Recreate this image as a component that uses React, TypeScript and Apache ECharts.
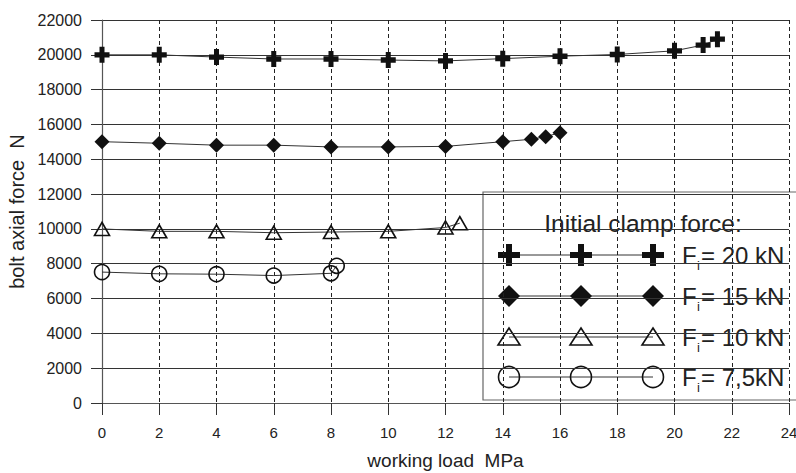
import React, { useEffect, useRef } from "react";
import * as echarts from "echarts";

const x20 = [0, 2, 4, 6, 8, 10, 12, 14, 16, 18, 20, 21, 21.5];
const y20 = [20000, 20000, 19870, 19760, 19760, 19700, 19650, 19780, 19920, 20020, 20230, 20560, 20900];
const x15 = [0, 2, 4, 6, 8, 10, 12, 14, 15, 15.5, 16];
const y15 = [15010, 14920, 14810, 14810, 14710, 14710, 14740, 15010, 15150, 15300, 15530];
const x10 = [0, 2, 4, 6, 8, 10, 12, 12.5];
const y10 = [10000, 9860, 9860, 9780, 9820, 9860, 10080, 10330];
const x75 = [0, 2, 4, 6, 8, 8.2];
const y75 = [7520, 7420, 7400, 7320, 7450, 7880];

const legendTitle = "Initial clamp force:";
const legendLabels = ["= 20 kN", "= 15 kN", "= 10 kN", "= 7,5kN"];
const seriesNames = ["Fi = 20 kN", "Fi = 15 kN", "Fi = 10 kN", "Fi = 7,5kN"];

const FONT = "'Liberation Sans', Arial, sans-serif";
const PLUS = "path://M5,0H10V5H15V10H10V15H5V10H0V5H5Z";

function zip(xs: number[], ys: number[]) {
  return xs.map((x, i) => [x, ys[i]]);
}

function legendMarker(kind: number, cx: number, cy: number): any {
  const black = "#111";
  if (kind === 0) {
    return {
      type: "group",
      children: [
        { type: "rect", shape: { x: cx - 11, y: cy - 3, width: 22, height: 6 }, style: { fill: black } },
        { type: "rect", shape: { x: cx - 3, y: cy - 11, width: 6, height: 22 }, style: { fill: black } },
      ],
    };
  }
  if (kind === 1) {
    return {
      type: "polygon",
      shape: { points: [[cx, cy - 11], [cx + 11, cy], [cx, cy + 11], [cx - 11, cy]] },
      style: { fill: black },
    };
  }
  if (kind === 2) {
    return {
      type: "polygon",
      shape: { points: [[cx, cy - 9], [cx + 11, cy + 8], [cx - 11, cy + 8]] },
      style: { fill: "none", stroke: black, lineWidth: 1.6 },
    };
  }
  return {
    type: "circle",
    shape: { cx, cy, r: 10.5 },
    style: { fill: "none", stroke: black, lineWidth: 1.6 },
  };
}

export default function App() {
  const ref = useRef<HTMLDivElement>(null);
  useEffect(() => {
    if (!ref.current) return;
    const chart = echarts.init(ref.current, null, { renderer: "svg" });
    const rowsY = [255, 296, 337, 377];
    const legendChildren: any[] = [
      {
        type: "rect",
        shape: { x: 483, y: 192, width: 320, height: 208 },
        style: { fill: "none", stroke: "#666", lineWidth: 1.2 },
      },
      {
        type: "text",
        style: {
          text: legendTitle,
          x: 643,
          y: 223,
          align: "center",
          verticalAlign: "middle",
          font: `24.5px ${FONT}`,
          fill: "#222",
        },
      },
    ];
    rowsY.forEach((yy, k) => {
      legendChildren.push({
        type: "line",
        shape: { x1: 509, y1: yy, x2: 653, y2: yy },
        style: { stroke: "#333", lineWidth: 1 },
      });
      [509, 581, 653].forEach((cx) => legendChildren.push(legendMarker(k, cx, yy)));
      legendChildren.push({
        type: "text",
        style: {
          text: "F",
          x: 682,
          y: yy,
          verticalAlign: "middle",
          font: `24px ${FONT}`,
          fill: "#222",
        },
      });
      legendChildren.push({
        type: "text",
        style: {
          text: "i",
          x: 697,
          y: yy + 10,
          verticalAlign: "middle",
          font: `13px ${FONT}`,
          fill: "#222",
        },
      });
      legendChildren.push({
        type: "text",
        style: {
          text: legendLabels[k],
          x: 701,
          y: yy,
          verticalAlign: "middle",
          font: `24px ${FONT}`,
          fill: "#222",
        },
      });
    });

    const lineStyle = { color: "#333", width: 1 };
    chart.setOption({
      animation: false,
      backgroundColor: "#fff",
      textStyle: { fontFamily: FONT },
      grid: {
        left: 102,
        right: 7,
        top: 20,
        bottom: 70,
        containLabel: false,
        outerBoundsMode: "none",
      },
      xAxis: {
        type: "value",
        min: 0,
        max: 24,
        interval: 2,
        name: "working load  MPa",
        nameLocation: "middle",
        nameGap: 48,
        nameTextStyle: { fontSize: 19, color: "#222", fontFamily: FONT },
        axisLine: { show: true, lineStyle: { color: "#555", width: 1.2 } },
        axisTick: { show: true, length: 12, lineStyle: { color: "#333" } },
        axisLabel: { margin: 22, fontSize: 15, color: "#222", fontFamily: FONT },
        splitLine: { show: true, lineStyle: { color: "#222", type: [4, 3], width: 1 } },
      },
      yAxis: {
        type: "value",
        min: 0,
        max: 22000,
        interval: 2000,
        name: "bolt axial force  N",
        nameLocation: "middle",
        nameGap: 73,
        nameTextStyle: { fontSize: 20, color: "#222", fontFamily: FONT },
        axisLine: { show: true, lineStyle: { color: "#555", width: 1.2 } },
        axisTick: { show: true, length: 11, lineStyle: { color: "#333" } },
        axisLabel: {
          margin: 20,
          fontSize: 16,
          color: "#222",
          fontFamily: FONT,
          formatter: (v: number) => String(v),
        },
        splitLine: { show: true, lineStyle: { color: "#333", width: 1 } },
      },
      series: [
        {
          name: seriesNames[0],
          type: "line",
          data: zip(x20, y20),
          symbol: PLUS,
          symbolSize: [15, 16],
          lineStyle,
          itemStyle: { color: "#111" },
        },
        {
          name: seriesNames[1],
          type: "line",
          data: zip(x15, y15),
          symbol: "diamond",
          symbolSize: [15, 15],
          lineStyle,
          itemStyle: { color: "#111" },
        },
        {
          name: seriesNames[2],
          type: "line",
          data: zip(x10, y10),
          symbol: "triangle",
          symbolSize: [15, 13],
          lineStyle,
          itemStyle: { color: "rgba(255,255,255,0)", borderColor: "#111", borderWidth: 1.6 },
        },
        {
          name: seriesNames[3],
          type: "line",
          data: zip(x75, y75),
          symbol: "circle",
          symbolSize: 15,
          lineStyle,
          itemStyle: { color: "rgba(255,255,255,0)", borderColor: "#111", borderWidth: 1.6 },
        },
      ],
      graphic: [{ type: "group", silent: true, children: legendChildren }],
    });
    return () => chart.dispose();
  }, []);
  return (
    <div
      ref={ref}
      style={{ position: "fixed", left: 0, top: 0, width: 796, height: 473 }}
    />
  );
}
